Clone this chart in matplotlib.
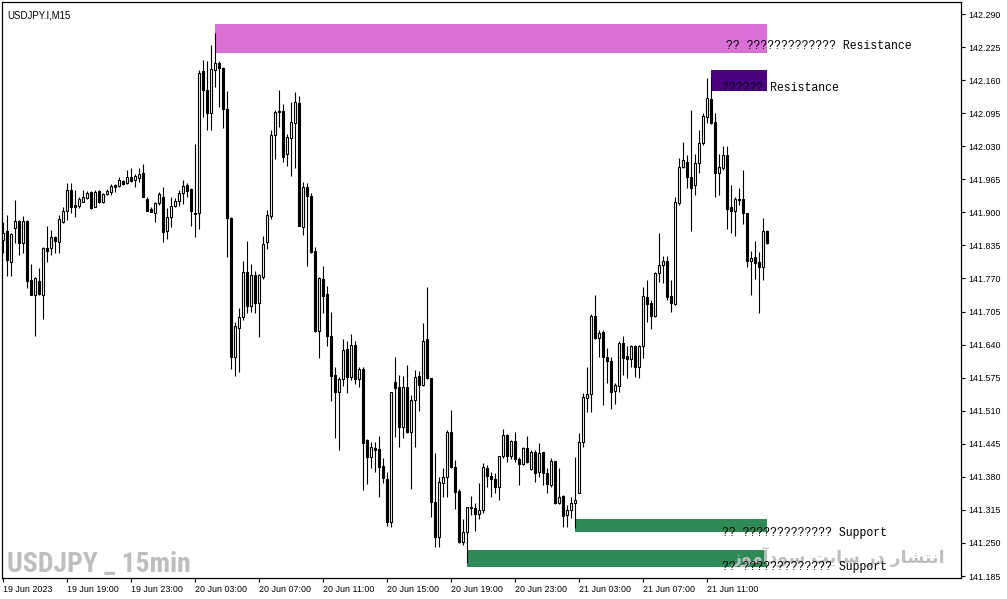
import matplotlib.pyplot as plt
from matplotlib.patches import Rectangle

# USDJPY M15 candles, 19 Jun 15:00 onward
opens = [
    141.846, 141.863, 141.803, 141.869, 141.883, 141.840, 141.883, 141.767, 141.738, 141.765,
    141.738, 141.830, 141.830, 141.852, 141.842, 141.881, 141.903, 141.944, 141.915, 141.913,
    141.920, 141.928, 141.940, 141.911, 141.942, 141.920, 141.936, 141.940, 141.954, 141.952,
    141.962, 141.958, 141.970, 141.964, 141.968, 141.977, 141.926, 141.907, 141.899, 141.918,
    141.930, 141.863, 141.891, 141.913, 141.922, 141.938, 141.954, 141.946, 141.899, 141.899,
    142.178, 142.141, 142.095, 142.180, 142.194, 142.184, 142.103, 141.889, 141.616, 141.673,
    141.694, 141.783, 141.716, 141.777, 141.722, 141.773, 141.842, 141.893, 142.052, 142.099,
    142.099, 142.015, 142.046, 142.076, 142.115, 141.871, 141.950, 141.932, 141.824, 141.667,
    141.769, 141.740, 141.657, 141.580, 141.547, 141.572, 141.631, 141.576, 141.639, 141.572,
    141.592, 141.452, 141.419, 141.437, 141.435, 141.401, 141.376, 141.291, 141.566, 141.557,
    141.478, 141.557, 141.468, 141.531, 141.578, 141.561, 141.651, 141.574, 141.330, 141.262,
    141.368, 141.380, 141.468, 141.399, 141.352, 141.252, 141.271, 141.321, 141.319, 141.307,
    141.315, 141.397, 141.382, 141.376, 141.360, 141.421, 141.462, 141.421, 141.450, 141.415,
    141.405, 141.437, 141.395, 141.429, 141.389, 141.429, 141.387, 141.364, 141.411, 141.328,
    141.342, 141.305, 141.315, 141.328, 141.348, 141.448, 141.535, 141.543, 141.696, 141.653,
    141.665, 141.616, 141.608, 141.549, 141.559, 141.643, 141.618, 141.612, 141.637, 141.596,
    141.637, 141.733, 141.722, 141.696, 141.781, 141.797, 141.804, 141.735, 141.720, 141.918,
    141.989, 141.999, 141.970, 141.954, 141.997, 142.036, 142.087, 142.123, 142.078, 141.977,
    141.987, 142.013, 141.911, 141.903, 141.926, 141.926, 141.899, 141.804, 141.812, 141.802,
    141.793, 141.863,
]
highs = [
    141.881, 141.895, 141.859, 141.924, 141.885, 141.893, 141.885, 141.799, 141.773, 141.791,
    141.832, 141.873, 141.865, 141.854, 141.895, 141.911, 141.958, 141.958, 141.944, 141.930,
    141.944, 141.942, 141.942, 141.944, 141.944, 141.938, 141.946, 141.956, 141.956, 141.970,
    141.964, 141.983, 141.987, 141.975, 141.987, 141.995, 141.930, 141.911, 141.920, 141.940,
    141.950, 141.909, 141.930, 141.928, 141.944, 141.964, 141.958, 141.948, 142.034, 142.180,
    142.200, 142.198, 142.229, 142.253, 142.198, 142.186, 142.139, 141.891, 141.684, 141.712,
    141.804, 141.844, 141.799, 141.785, 141.779, 141.854, 141.905, 142.062, 142.101, 142.141,
    142.113, 142.054, 142.117, 142.137, 142.129, 141.960, 141.958, 141.938, 141.832, 141.773,
    141.795, 141.755, 141.704, 141.596, 141.576, 141.651, 141.647, 141.661, 141.647, 141.596,
    141.596, 141.454, 141.448, 141.448, 141.460, 141.417, 141.389, 141.547, 141.616, 141.580,
    141.578, 141.600, 141.541, 141.590, 141.588, 141.682, 141.753, 141.574, 141.427, 141.380,
    141.397, 141.472, 141.511, 141.413, 141.356, 141.297, 141.321, 141.342, 141.329, 141.368,
    141.407, 141.403, 141.389, 141.387, 141.421, 141.474, 141.464, 141.452, 141.468, 141.419,
    141.439, 141.460, 141.433, 141.433, 141.446, 141.429, 141.397, 141.417, 141.411, 141.397,
    141.344, 141.325, 141.340, 141.419, 141.466, 141.545, 141.596, 141.700, 141.737, 141.669,
    141.669, 141.633, 141.616, 141.564, 141.647, 141.657, 141.637, 141.639, 141.639, 141.639,
    141.753, 141.767, 141.728, 141.783, 141.859, 141.814, 141.814, 141.767, 141.930, 142.007,
    142.038, 142.013, 142.101, 142.015, 142.062, 142.095, 142.164, 142.166, 142.095, 142.015,
    142.030, 142.030, 141.954, 141.930, 141.948, 141.983, 141.899, 141.824, 141.844, 141.822,
    141.889, 141.865,
]
lows = [
    141.820, 141.774, 141.775, 141.840, 141.816, 141.820, 141.751, 141.737, 141.657, 141.737,
    141.690, 141.802, 141.816, 141.820, 141.820, 141.879, 141.885, 141.899, 141.891, 141.909,
    141.920, 141.926, 141.907, 141.911, 141.918, 141.918, 141.934, 141.934, 141.940, 141.950,
    141.954, 141.956, 141.960, 141.950, 141.960, 141.930, 141.903, 141.901, 141.881, 141.915,
    141.842, 141.848, 141.871, 141.911, 141.913, 141.917, 141.930, 141.873, 141.852, 141.867,
    142.087, 142.062, 142.062, 142.146, 142.107, 142.066, 141.812, 141.592, 141.578, 141.586,
    141.688, 141.702, 141.704, 141.702, 141.655, 141.769, 141.828, 141.887, 142.005, 142.068,
    141.999, 141.991, 141.971, 141.987, 141.873, 141.855, 141.795, 141.820, 141.665, 141.614,
    141.702, 141.637, 141.529, 141.456, 141.433, 141.559, 141.545, 141.570, 141.562, 141.557,
    141.354, 141.366, 141.397, 141.389, 141.340, 141.368, 141.283, 141.281, 141.458, 141.439,
    141.456, 141.466, 141.356, 141.439, 141.509, 141.559, 141.572, 141.301, 141.242, 141.242,
    141.340, 141.340, 141.397, 141.317, 141.250, 141.246, 141.211, 141.305, 141.274, 141.297,
    141.309, 141.360, 141.340, 141.348, 141.334, 141.417, 141.409, 141.415, 141.409, 141.364,
    141.403, 141.407, 141.393, 141.370, 141.380, 141.364, 141.348, 141.360, 141.326, 141.326,
    141.281, 141.281, 141.299, 141.279, 141.348, 141.439, 141.507, 141.507, 141.651, 141.616,
    141.521, 141.564, 141.513, 141.523, 141.547, 141.580, 141.574, 141.596, 141.576, 141.574,
    141.614, 141.684, 141.671, 141.694, 141.763, 141.761, 141.728, 141.704, 141.718, 141.915,
    141.987, 141.948, 141.863, 141.934, 141.977, 142.032, 142.076, 142.074, 141.930, 141.934,
    141.983, 141.867, 141.859, 141.854, 141.915, 141.877, 141.793, 141.737, 141.769, 141.702,
    141.767, 141.838,
]
closes = [
    141.860, 141.806, 141.857, 141.883, 141.840, 141.883, 141.765, 141.738, 141.771, 141.740,
    141.830, 141.824, 141.852, 141.844, 141.887, 141.903, 141.944, 141.911, 141.911, 141.926,
    141.930, 141.938, 141.909, 141.940, 141.920, 141.936, 141.942, 141.952, 141.950, 141.964,
    141.956, 141.970, 141.962, 141.972, 141.975, 141.930, 141.903, 141.901, 141.918, 141.936,
    141.861, 141.891, 141.913, 141.922, 141.938, 141.952, 141.942, 141.903, 141.897, 142.174,
    142.141, 142.095, 142.182, 142.194, 142.184, 142.103, 141.889, 141.616, 141.677, 141.694,
    141.783, 141.716, 141.777, 141.722, 141.777, 141.838, 141.895, 142.052, 142.097, 142.097,
    142.009, 142.048, 142.078, 142.117, 141.873, 141.950, 141.932, 141.822, 141.667, 141.771,
    141.735, 141.657, 141.578, 141.547, 141.572, 141.629, 141.576, 141.639, 141.572, 141.592,
    141.446, 141.419, 141.439, 141.433, 141.399, 141.378, 141.291, 141.547, 141.555, 141.478,
    141.557, 141.468, 141.531, 141.576, 141.561, 141.647, 141.574, 141.330, 141.262, 141.370,
    141.380, 141.468, 141.399, 141.350, 141.252, 141.271, 141.321, 141.319, 141.307, 141.315,
    141.399, 141.382, 141.376, 141.360, 141.421, 141.462, 141.421, 141.450, 141.415, 141.405,
    141.437, 141.409, 141.429, 141.387, 141.427, 141.387, 141.366, 141.411, 141.328, 141.340,
    141.303, 141.315, 141.328, 141.334, 141.448, 141.537, 141.543, 141.696, 141.653, 141.663,
    141.616, 141.608, 141.547, 141.561, 141.643, 141.614, 141.612, 141.637, 141.596, 141.637,
    141.735, 141.720, 141.696, 141.781, 141.797, 141.804, 141.733, 141.722, 141.920, 141.989,
    142.003, 141.970, 141.948, 141.997, 142.036, 142.089, 142.125, 142.076, 141.977, 141.989,
    142.013, 141.907, 141.903, 141.926, 141.924, 141.899, 141.804, 141.810, 141.800, 141.793,
    141.863, 141.840,
]

time_labels = ["19 Jun 2023", "19 Jun 19:00", "19 Jun 23:00", "20 Jun 03:00",
               "20 Jun 07:00", "20 Jun 11:00", "20 Jun 15:00", "20 Jun 19:00",
               "20 Jun 23:00", "21 Jun 03:00", "21 Jun 07:00", "21 Jun 11:00"]
price_ticks = [142.290, 142.225, 142.160, 142.095, 142.030, 141.965, 141.900, 141.835,
               141.770, 141.705, 141.640, 141.575, 141.510, 141.445, 141.380, 141.315,
               141.250, 141.185]

# supply / demand zones: start bar, low, high
zone_start = [53, 177, 143, 116]
zone_low = [142.213, 142.139, 141.272, 141.202]
zone_high = [142.270, 142.180, 141.298, 141.236]
zone_colors = ["#DA70D6", "#4B0082", "#2E8B57", "#2E8B57"]
zone_text = ["?? ????????????? Resistance", "?????? Resistance",
             "?? ????????????? Support", "?? ????????????? Support"]
zone_text_y = [142.222, 142.139, 141.263, 141.197]
zone_text_x = [180.7, 179.6, 179.6, 179.6]

fig = plt.figure(figsize=(10.07, 5.99), dpi=100)
ax = fig.add_axes([2 / 1007, 21 / 599, 959 / 1007, 576 / 599])
last = len(closes) - 1

for s, lo, hi, col in zip(zone_start, zone_low, zone_high, zone_colors):
    ax.add_patch(Rectangle((s, lo), last - s, hi - lo, facecolor=col, edgecolor="none", zorder=1))

for i, (o, h, l, c) in enumerate(zip(opens, highs, lows, closes)):
    ax.vlines(i, l, h, color="black", lw=0.8, zorder=3)
    b0, b1 = min(o, c), max(o, c)
    ax.add_patch(Rectangle((i - 0.25, b0), 0.5, max(b1 - b0, 0.0004),
                           facecolor="white" if c >= o else "black",
                           edgecolor="black", lw=0.8, zorder=4))

for t, x, y in zip(zone_text, zone_text_x, zone_text_y):
    ax.text(x, y, t, family="Liberation Mono", fontsize=8.3, color="black",
            ha="left", va="baseline", zorder=6)

# watermarks
ax.text(0.0055, 0.0104, "USDJPY _ 15min", transform=ax.transAxes,
        family=["Roboto Condensed", "Roboto", "DejaVu Sans"], fontweight="bold",
        fontstretch="condensed", fontsize=20, color="#BEBEBE",
        ha="left", va="baseline", zorder=5)
persian = ("\ufeaf\ufeee\ufee3\ufe81\ufea9\ufeee\ufeb3 \ufe96\ufef3\ufe8e\ufeb3 "
           "\ufead\ufea9 \ufead\ufe8e\ufeb8\ufe98\ufee7\ufe8d")
ax.text(0.9835, 0.027, persian, transform=ax.transAxes, family="DejaVu Sans",
        fontweight="bold", fontsize=12.5, color="#BEBEBE", ha="right", va="baseline", zorder=5)

ax.text(0.0055, 0.985, "USDJPY.I,M15", transform=ax.transAxes, family="Liberation Sans",
        fontsize=6.9, color="black", ha="left", va="top")

ax.set_xlim(-0.33, 239.4)
ax.set_ylim(141.1811, 142.3136)
ax.yaxis.tick_right()
ax.set_yticks(price_ticks)
ax.set_yticklabels([f"{p:.3f}" for p in price_ticks], family="Liberation Sans", fontsize=6.4)
ax.set_xticks([k * 16 for k in range(len(time_labels))])
ax.set_xticklabels(time_labels, family="Liberation Sans", fontsize=6.4, ha="left")
ax.tick_params(axis="both", direction="out", length=3, width=0.8, color="black", pad=2)
for sp in ax.spines.values():
    sp.set_linewidth(0.9)
    sp.set_color("black")

fig.savefig("out.png", dpi=100)
